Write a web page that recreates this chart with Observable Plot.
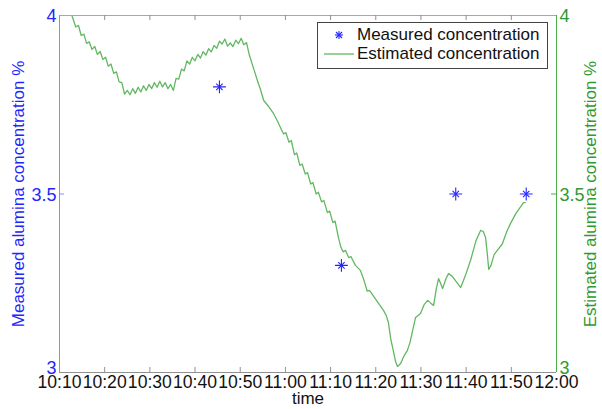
<!DOCTYPE html>
<html>
<head>
<meta charset="utf-8">
<script src="https://cdn.jsdelivr.net/npm/d3@7"></script>
<script src="https://cdn.jsdelivr.net/npm/@observablehq/plot@0.6"></script>
<style>
  html, body { margin: 0; padding: 0; background: #fff; }
  #wrap { position: relative; width: 602px; height: 409px; font-family: "Liberation Sans", Arial, sans-serif; }
  #legend { position: absolute; left: 317px; top: 22px; width: 229px; height: 45px; border: 1px solid #444; background: #fff; font-size: 17px; color: #111; }
  #legend .row { position: absolute; left: 0; height: 20px; line-height: 20px; white-space: nowrap; }
  #legend .key { position: absolute; left: 5px; top: 0; width: 32px; height: 20px; }
  #legend .lab { position: absolute; left: 39px; top: 0; }
</style>
</head>
<body>
<div id="wrap">
  <div id="chart"></div>
  <div id="legend"></div>
</div>
<script>
// ---- data ----
const startTime = "10:10";
const xTickLabels = ["10:10","10:20","10:30","10:40","10:50","11:00","11:10","11:20","11:30","11:40","11:50","12:00"];
const yTickValues = [3, 3.5, 4];
const yTickLabels = ["3", "3.5", "4"];
const seriesNames = ["Measured concentration", "Estimated concentration"];

// measured concentration (minutes after 10:10, %)
const measuredMinute = [35.4, 62.4, 87.7, 103.3];
const measuredValue  = [3.8, 3.3, 3.5, 3.5];

// estimated concentration (minutes after 10:10, %)
const estMinute = [
  2.8, 3.6, 4.2, 4.8, 5.4, 6.0, 6.6, 7.2, 7.8, 8.4, 9.0, 9.6, 10.2, 10.8, 11.4, 12.0, 12.6, 13.2, 13.8, 14.4,
  15.0, 15.6, 16.2, 16.8, 17.4, 18.0, 18.6, 19.2, 19.8, 20.4, 21.0, 21.6, 22.2, 22.8, 23.4, 24.0, 24.6, 25.2,
  25.8, 26.4, 27.0, 27.6, 28.2, 28.8, 29.4, 30.0, 30.6, 31.2, 31.8, 32.4, 33.0, 33.6, 34.2, 34.8, 35.4, 36.0,
  36.6, 37.2, 37.8, 38.4, 39.0, 39.6, 40.2, 40.8, 41.4, 42.0, 42.6, 43.2, 43.8, 44.5, 45.2, 46.3, 47.4, 48.2,
  48.9, 49.6, 50.1, 50.8, 51.3, 52.0, 52.5, 53.2, 53.7, 54.4, 54.9, 55.6, 56.1, 56.8, 57.3, 58.0, 58.5, 59.3,
  59.8, 60.5, 61.0, 61.7, 62.3, 62.8, 63.3, 64.0, 64.5, 65.5, 66.6, 67.3, 68.1, 68.6, 69.5, 70.5, 71.7, 72.3,
  72.8, 73.3, 73.9, 74.4, 74.8, 75.5, 76.2, 77.0, 77.6, 78.2, 78.8, 79.9, 80.7, 81.5, 82.1, 82.8, 83.4, 83.9,
  84.4, 84.8, 85.5, 86.1, 86.9, 87.6, 88.8, 89.8, 91.0, 92.2, 93.2, 93.8, 94.3, 94.7, 95.0, 95.5, 96.2, 96.9,
  98.0, 99.0, 99.8, 101.0, 102.0, 102.7, 103.1
];
const estValue = [
  3.998, 3.968, 3.972, 3.944, 3.948, 3.922, 3.926, 3.905, 3.913, 3.891, 3.899, 3.877, 3.883, 3.858, 3.864, 3.838, 3.842, 3.814, 3.812, 3.780,
  3.790, 3.778, 3.795, 3.782, 3.799, 3.786, 3.803, 3.790, 3.807, 3.795, 3.812, 3.799, 3.816, 3.800, 3.812, 3.795, 3.807, 3.790,
  3.824, 3.822, 3.850, 3.845, 3.873, 3.864, 3.883, 3.873, 3.891, 3.881, 3.899, 3.889, 3.907, 3.898, 3.916, 3.908, 3.928, 3.920,
  3.934, 3.914, 3.923, 3.913, 3.931, 3.921, 3.936, 3.918, 3.924, 3.890, 3.866, 3.842, 3.818, 3.792, 3.762, 3.745, 3.725, 3.705,
  3.686, 3.668, 3.672, 3.645, 3.650, 3.610, 3.615, 3.580, 3.584, 3.556, 3.560, 3.528, 3.532, 3.500, 3.505, 3.478, 3.482, 3.448,
  3.452, 3.420, 3.424, 3.380, 3.350, 3.338, 3.342, 3.322, 3.325, 3.300, 3.286, 3.262, 3.228, 3.230, 3.214, 3.196, 3.174, 3.160,
  3.140, 3.095, 3.060, 3.030, 3.017, 3.025, 3.045, 3.062, 3.085, 3.120, 3.154, 3.165, 3.190, 3.202, 3.195, 3.188, 3.235, 3.263,
  3.248, 3.235, 3.262, 3.277, 3.270, 3.258, 3.238, 3.270, 3.315, 3.370, 3.398, 3.395, 3.378, 3.330, 3.289, 3.300, 3.330, 3.342,
  3.360, 3.395, 3.417, 3.445, 3.463, 3.476, 3.476
];

// ---- helpers ----
const [sh, sm] = startTime.split(":").map(Number);
const t0 = Date.UTC(2000, 0, 1, sh, sm);
const atMin = m => new Date(t0 + m * 60000);
const parseClock = s => { const [h, m] = s.split(":").map(Number); return new Date(Date.UTC(2000, 0, 1, h, m)); };
const xTicks = xTickLabels.map(parseClock);

const measured = measuredMinute.map((m, i) => ({time: atMin(m), value: measuredValue[i]}));
const estimated = estMinute.map((m, i) => ({time: atMin(m), value: estValue[i]}));
const yLabelOf = v => yTickLabels[yTickValues.indexOf(v)];
const yUpper = yTickValues.filter(v => v > yTickValues[0]);
const yBottom = [yTickValues[0]];

const BLUE_TEXT = "#2424ff", BLUE_AXIS = "#8a8aff";
const GREEN_TEXT = "#2f9a2f", GREEN_AXIS = "#4aae4a", GREEN_LINE = "#62b862";
const W = 602, H = 409, mt = 15, mb = 37, ml = 59, mr = 46;
const fh = H - mt - mb, fw = W - ml - mr;

const yAxisOpts = (anchor, fill, dy) => ({anchor, tickSize: 0, tickPadding: 3, fill, fontSize: 18, dy,
  tickFormat: yLabelOf, label: null});

const chart = Plot.plot({
  width: W, height: H,
  marginTop: mt, marginBottom: mb, marginLeft: ml, marginRight: mr,
  style: {fontFamily: '"Liberation Sans", Arial, sans-serif', fontSize: "17px", background: "#fff", overflow: "visible"},
  x: {type: "utc", domain: [xTicks[0], xTicks[xTicks.length - 1]]},
  y: {domain: [3, 4]},
  marks: [
    // frame
    Plot.ruleY([4], {stroke: "#a8a8a8"}),
    Plot.ruleY([3], {stroke: "#909090"}),
    Plot.ruleX([xTicks[0]], {stroke: BLUE_AXIS}),
    Plot.ruleX([xTicks[xTicks.length - 1]], {stroke: GREEN_AXIS}),
    // inward ticks
    Plot.tickX(xTicks.slice(1, -1), {x: d => d, stroke: "#909090", insetTop: fh - 5}),
    Plot.tickX(xTicks.slice(1, -1), {x: d => d, stroke: "#909090", insetBottom: fh - 5}),
    Plot.tickY([3.5], {y: d => d, stroke: BLUE_AXIS, insetRight: fw - 5}),
    Plot.tickY([3.5], {y: d => d, stroke: GREEN_AXIS, insetLeft: fw - 5}),
    // axes
    Plot.axisX(xTicks, {anchor: "bottom", tickSize: 0, tickPadding: 3, fill: "#111", fontSize: 17.6,
      tickFormat: (d, i) => xTickLabels[i], label: null}),
    Plot.axisY(yUpper, yAxisOpts("left", BLUE_TEXT, 1)),
    Plot.axisY(yBottom, yAxisOpts("left", BLUE_TEXT, -4)),
    Plot.axisY(yUpper, yAxisOpts("right", GREEN_TEXT, 1)),
    Plot.axisY(yBottom, yAxisOpts("right", GREEN_TEXT, -4)),
    // axis titles
    Plot.text(["time"], {frameAnchor: "bottom", dy: 31, fill: "#111", fontSize: 17}),
    Plot.text(["Measured alumina concentration %"], {frameAnchor: "left", textAnchor: "middle", rotate: -90, dx: -41, fill: BLUE_TEXT, fontSize: 17}),
    Plot.text(["Estimated alumina concentration %"], {frameAnchor: "right", textAnchor: "middle", rotate: -90, dx: 34, fill: GREEN_TEXT, fontSize: 17}),
    // data
    Plot.line(estimated, {x: "time", y: "value", stroke: GREEN_LINE, strokeWidth: 1.3}),
    Plot.dot(measured, {x: "time", y: "value", symbol: "plus", r: 4.2, stroke: BLUE_TEXT, strokeWidth: 1.1}),
    Plot.dot(measured, {x: "time", y: "value", symbol: "times", r: 3, stroke: BLUE_TEXT, strokeWidth: 1.1})
  ]
});
document.getElementById("chart").appendChild(chart);

// legend
const legend = document.getElementById("legend");
const starSvg = `<svg width="32" height="20"><g stroke="${BLUE_TEXT}" stroke-width="1.1">
  <line x1="12" y1="10" x2="20" y2="10"/><line x1="16" y1="6" x2="16" y2="14"/>
  <line x1="13" y1="7" x2="19" y2="13"/><line x1="19" y1="7" x2="13" y2="13"/></g></svg>`;
const lineSvg = `<svg width="32" height="20"><line x1="1" y1="10" x2="31" y2="10" stroke="${GREEN_LINE}" stroke-width="1.3"/></svg>`;
legend.innerHTML =
  `<div class="row" style="top:2px"><span class="key">${starSvg}</span><span class="lab">${seriesNames[0]}</span></div>` +
  `<div class="row" style="top:21px"><span class="key">${lineSvg}</span><span class="lab">${seriesNames[1]}</span></div>`;
</script>
</body>
</html>
